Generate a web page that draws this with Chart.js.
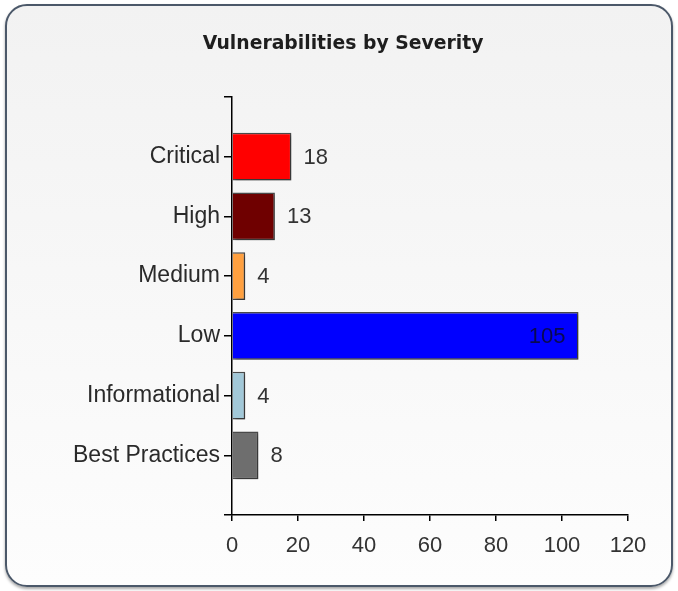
<!DOCTYPE html>
<html>
<head>
<meta charset="utf-8">
<script src="https://cdn.jsdelivr.net/npm/chart.js@4/dist/chart.umd.min.js"></script>
<style>
  html, body { margin: 0; padding: 0; background: #ffffff; }
  #wrap { position: relative; width: 678px; height: 591px; overflow: hidden; }
  #panel {
    position: absolute; left: 5px; top: 4px; width: 664px; height: 579px;
    border: 2px solid #4b5869; border-radius: 22px;
    background: linear-gradient(#f2f2f2, #fdfdfd);
    box-shadow: 0 2px 3px rgba(0,0,0,0.35);
  }
  #chart { position: absolute; left: 0; top: 0; }
</style>
</head>
<body>
<div id="wrap">
  <div id="panel"></div>
  <canvas id="chart" width="678" height="591"></canvas>
</div>
<script>
// Severity categories, counts and bar colours
const severities = ['Critical', 'High', 'Medium', 'Low', 'Informational', 'Best Practices'];
const counts = [18, 13, 4, 105, 4, 8];
const barColors = ['#ff0000', '#6f0000', '#ffa040', '#0000ff', '#a2c8d8', '#6e6e6e'];
const xTicks = [0, 20, 40, 60, 80, 100, 120];

const FONT = "'Liberation Sans', Arial, sans-serif";

// Soft drop shadow behind the bars
const barShadow = {
  id: 'barShadow',
  beforeDatasetsDraw(chart) {
    const ctx = chart.ctx;
    ctx.save();
    ctx.shadowColor = 'rgba(0,0,0,0.35)';
    ctx.shadowOffsetX = 2;
    ctx.shadowOffsetY = 2;
    ctx.shadowBlur = 3;
  },
  afterDatasetsDraw(chart) {
    chart.ctx.restore();
  }
};

// Count labels next to each bar (inside the bar when it runs too close to the edge)
const valueLabels = {
  id: 'valueLabels',
  afterDatasetsDraw(chart) {
    const ctx = chart.ctx;
    const meta = chart.getDatasetMeta(0);
    ctx.save();
    ctx.font = '22px ' + FONT;
    ctx.textBaseline = 'middle';
    meta.data.forEach((bar, i) => {
      const text = String(counts[i]);
      const w = ctx.measureText(text).width;
      if (bar.x + 12 + w > chart.chartArea.right - 10) {
        ctx.textAlign = 'right';
        ctx.fillStyle = 'rgba(10,10,50,0.85)';
        ctx.fillText(text, bar.x - 13, bar.y + 1);
      } else {
        ctx.textAlign = 'left';
        ctx.fillStyle = '#333333';
        ctx.fillText(text, bar.x + 12, bar.y + 1);
      }
    });
    ctx.restore();
  }
};

new Chart(document.getElementById('chart'), {
  type: 'bar',
  data: {
    datasets: [{
      data: counts.map((v, i) => ({ x: v, y: i })),
      backgroundColor: barColors,
      borderColor: 'rgba(45,45,45,0.85)',
      borderWidth: 1.5,
      categoryPercentage: 1,
      barPercentage: 0.8
    }]
  },
  options: {
    indexAxis: 'y',
    responsive: false,
    animation: false,
    layout: { padding: { top: 24, right: 50, bottom: 0, left: 58 } },
    plugins: {
      legend: { display: false },
      tooltip: { enabled: false },
      title: {
        display: true,
        text: 'Vulnerabilities by Severity',
        color: '#1e1e1e',
        font: { family: "'DejaVu Sans', sans-serif", size: 18.8, weight: 'bold', lineHeight: 1.2 },
        padding: { top: 8.6, bottom: 41.8 }
      }
    },
    scales: {
      x: {
        type: 'linear',
        min: xTicks[0],
        max: xTicks[xTicks.length - 1],
        afterBuildTicks(scale) { scale.ticks = xTicks.map(v => ({ value: v })); },
        afterFit(scale) { scale.height = 76; },
        grid: { drawOnChartArea: false, tickLength: 6, color: '#000', lineWidth: 1.5 },
        border: { display: true, color: '#000', width: 1.5 },
        ticks: { color: '#333', font: { family: FONT, size: 22 }, padding: 12, maxRotation: 0 }
      },
      y: {
        type: 'linear',
        reverse: true,
        offset: false,
        min: -1,
        max: severities.length,
        afterBuildTicks(scale) {
          const t = [];
          for (let v = -1; v <= severities.length; v++) t.push({ value: v });
          scale.ticks = t;
        },
        afterFit(scale) { scale.width = 232 - 58; },
        grid: { offset: false, drawOnChartArea: false, tickLength: 8, color: '#000', lineWidth: 1.5 },
        border: { display: true, color: '#000', width: 1.5 },
        ticks: {
          color: '#2a2a2a',
          font: { family: FONT, size: 23 },
          padding: 4,
          autoSkip: false,
          callback: (v) => severities[v] ?? ''
        }
      }
    }
  },
  plugins: [barShadow, valueLabels]
});
</script>
</body>
</html>
